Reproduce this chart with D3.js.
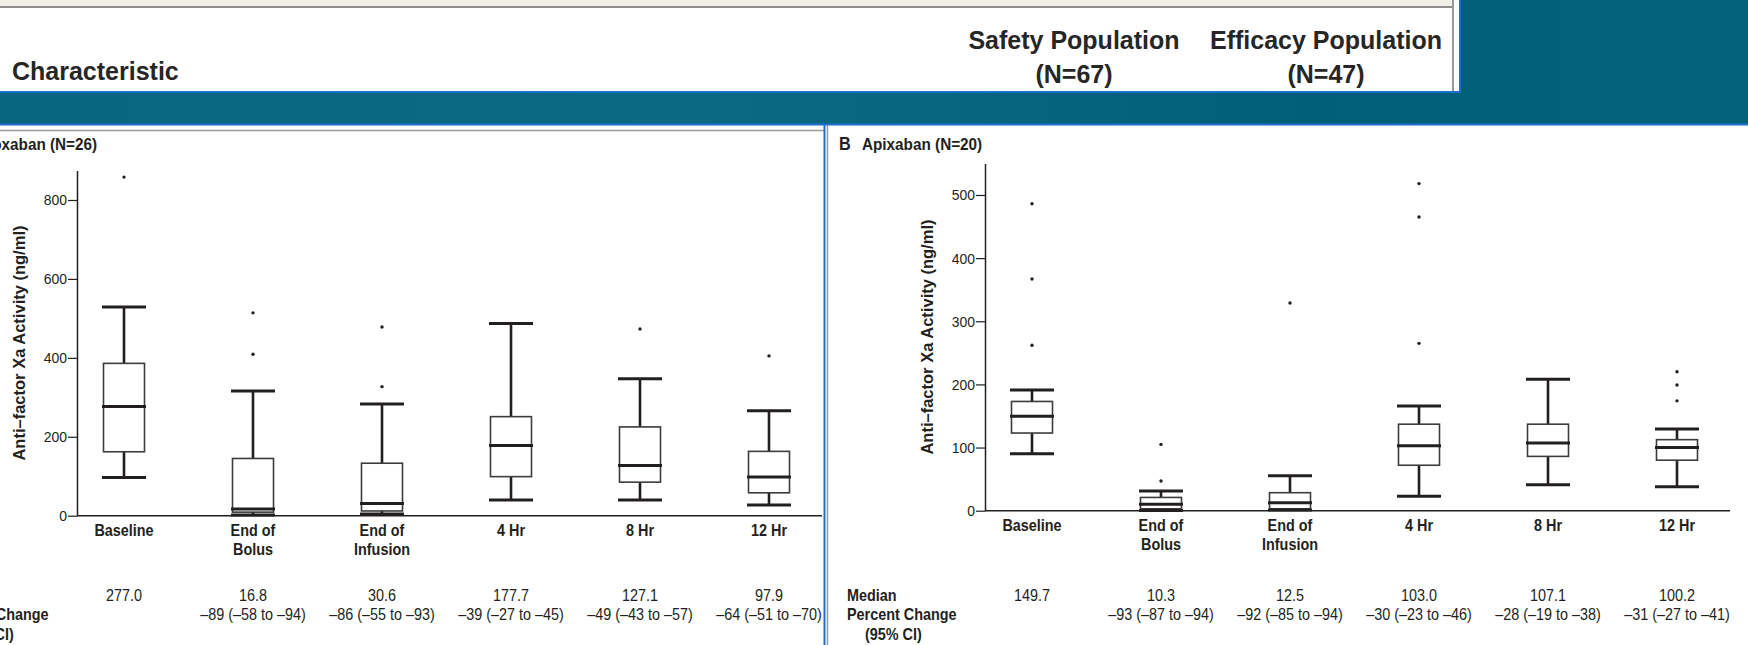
<!DOCTYPE html>
<html>
<head>
<meta charset="utf-8">
<script src="https://cdn.jsdelivr.net/npm/d3@7"></script>
<style>
body { margin: 0; background: #fff; overflow: hidden; }
text { font-family: "Liberation Sans", Arial, sans-serif; fill: #231f20; }
.hdr { font-weight: bold; font-size: 25px; fill: #262626; }
</style>
</head>
<body>
<div id="chart"></div>
<script>
var categories = ["Baseline", "End of|Bolus", "End of|Infusion", "4 Hr", "8 Hr", "12 Hr"];

// A: rivaroxaban (N=26)
var lowA  = [97, 2, 4, 40, 40, 27];
var q1A   = [162, 9, 12, 99, 85, 58];
var medA  = [277.0, 16.8, 30.6, 177.7, 127.1, 97.9];
var q3A   = [386, 145, 133, 251, 225, 163];
var highA = [529, 316, 283, 487, 347, 266];
var outA  = [[858], [514, 409], [478, 327], [], [473], [405]];
var changeA = ["", "–89 (–58 to –94)", "–86 (–55 to –93)", "–39 (–27 to –45)", "–49 (–43 to –57)", "–64 (–51 to –70)"];
var ticksA = [0, 200, 400, 600, 800];

// B: apixaban (N=20)
var lowB  = [90, 0.5, 1, 23, 41, 38];
var q1B   = [123, 3, 3, 72, 86, 80];
var medB  = [149.7, 10.3, 12.5, 103.0, 107.1, 100.2];
var q3B   = [173, 21, 28.5, 137, 137, 112.5];
var highB = [191, 31, 55.5, 166, 208, 129.5];
var outB  = [[486, 367, 262], [105, 47], [329], [518, 465, 265], [], [220, 199, 174]];
var changeB = ["", "–93 (–87 to –94)", "–92 (–85 to –94)", "–30 (–23 to –46)", "–28 (–19 to –38)", "–31 (–27 to –41)"];
var ticksB = [0, 100, 200, 300, 400, 500];

var width = 1748, height = 645;
var SX = 0.9;   // horizontal squeeze, the figure uses a condensed face

var svg = d3.select("#chart").append("svg")
	.attr("width", width)
	.attr("height", height);

function txt(parent, x, y, s, size, bold, anchor) {
	return parent.append("text")
		.attr("transform", "translate(" + x + "," + y + ") scale(" + SX + ",1)")
		.style("font-size", size + "px")
		.style("font-weight", bold ? "bold" : "normal")
		.style("text-anchor", anchor || "start")
		.text(s);
}

/****************************** header band ******************************/
var defs = svg.append("defs");
var grad = defs.append("linearGradient").attr("id", "teal");
grad.append("stop").attr("offset", "0%").attr("stop-color", "#0a6580");
grad.append("stop").attr("offset", "40%").attr("stop-color", "#0c6984");
grad.append("stop").attr("offset", "75%").attr("stop-color", "#035f79");
grad.append("stop").attr("offset", "100%").attr("stop-color", "#05627c");

svg.append("rect").attr("x", 0).attr("y", 0).attr("width", width).attr("height", 124)
	.style("fill", "url(#teal)");
svg.append("rect").attr("x", 0).attr("y", 0).attr("width", 1460).attr("height", 92)
	.style("fill", "#fff");
svg.append("rect").attr("x", 0).attr("y", 0).attr("width", 1453).attr("height", 6)
	.style("fill", "#f3efe9");
svg.append("line").attr("x1", 0).attr("x2", 1453).attr("y1", 7).attr("y2", 7)
	.style("stroke", "#8c8c8c").style("stroke-width", 2);
svg.append("line").attr("x1", 1453).attr("x2", 1453).attr("y1", 0).attr("y2", 92)
	.style("stroke", "#9a9a9a").style("stroke-width", 2);
svg.append("line").attr("x1", 1460).attr("x2", 1460).attr("y1", 0).attr("y2", 93)
	.style("stroke", "#1d6fcf").style("stroke-width", 2);
svg.append("line").attr("x1", 0).attr("x2", 1461).attr("y1", 92).attr("y2", 92)
	.style("stroke", "#1d6fcf").style("stroke-width", 2);
svg.append("line").attr("x1", 0).attr("x2", width).attr("y1", 124.5).attr("y2", 124.5)
	.style("stroke", "#1d6fcf").style("stroke-width", 2);

svg.append("text").attr("class", "hdr").attr("x", 12).attr("y", 80).text("Characteristic");
var hdrCols = [["Safety Population", "(N=67)", 1074], ["Efficacy Population", "(N=47)", 1326]];
hdrCols.forEach(function(c) {
	svg.append("text").attr("class", "hdr").attr("x", c[2]).attr("y", 49)
		.style("text-anchor", "middle").text(c[0]);
	svg.append("text").attr("class", "hdr").attr("x", c[2]).attr("y", 83)
		.style("text-anchor", "middle").text(c[1]);
});

// panel borders
svg.append("line").attr("x1", 0).attr("x2", 824).attr("y1", 130.5).attr("y2", 130.5)
	.style("stroke", "#9a9a9a").style("stroke-width", 1.5);
svg.append("line").attr("x1", 824.5).attr("x2", 824.5).attr("y1", 125).attr("y2", height)
	.style("stroke", "#1d6fcf").style("stroke-width", 2);
svg.append("line").attr("x1", 827.5).attr("x2", 827.5).attr("y1", 125).attr("y2", height)
	.style("stroke", "#9a9a9a").style("stroke-width", 1.5);

/****************************** box plot panel ******************************/
function panel(p) {
	var g = svg.append("g");
	var ox = p.ox;

	var y = d3.scaleLinear().domain([0, p.ymax]).range([p.y0, p.ytop]);
	var x = d3.scalePoint().domain(categories).range([ox + 47, ox + 692]);

	// title
	txt(g, ox - 146, 150, p.letter, 18, true);
	txt(g, ox - 123, 150, p.title, 17, true);

	// y axis
	var yAxis = g.append("g").attr("transform", "translate(" + ox + ",0)")
		.call(d3.axisLeft(y).tickValues(p.ticks).tickSize(9).tickSizeOuter(0).tickPadding(1));
	yAxis.select(".domain").style("stroke", "#231f20").style("stroke-width", 1.5);
	yAxis.selectAll(".tick line").style("stroke", "#231f20").style("stroke-width", 1.2);
	yAxis.selectAll(".tick text")
		.attr("x", -10 / SX)
		.attr("transform", "scale(" + SX + ",1)")
		.style("font-size", "15.5px").style("fill", "#231f20")
		.style("font-family", "'Liberation Sans', Arial, sans-serif");

	g.append("text")
		.attr("transform", "translate(" + (ox - 52) + "," + ((p.y0 + p.ytop) / 2) + ") rotate(-90)")
		.style("text-anchor", "middle").style("font-weight", "bold").style("font-size", "16.5px")
		.text("Anti–factor Xa Activity (ng/ml)");

	// x axis line
	g.append("line").attr("x1", ox).attr("x2", ox + 745).attr("y1", p.y0).attr("y2", p.y0)
		.style("stroke", "#231f20").style("stroke-width", 1.5);

	var rows = categories.map(function(c, i) {
		return { cat: c, low: p.low[i], q1: p.q1[i], med: p.med[i], q3: p.q3[i],
			high: p.high[i], out: p.out[i], change: p.change[i] };
	});

	var box = g.selectAll(".box").data(rows).enter().append("g")
		.attr("class", "box")
		.attr("transform", function(d) { return "translate(" + x(d.cat) + ",0)"; });

	var capW = 44, boxW = 41;

	box.append("line").attr("x1", 0).attr("x2", 0)
		.attr("y1", function(d) { return y(d.low); })
		.attr("y2", function(d) { return y(d.high); })
		.style("stroke", "#231f20").style("stroke-width", 2.6);
	box.append("rect")
		.attr("x", -boxW / 2).attr("width", boxW)
		.attr("y", function(d) { return y(d.q3); })
		.attr("height", function(d) { return y(d.q1) - y(d.q3); })
		.style("fill", "#fff").style("stroke", "#3c3c3c").style("stroke-width", 1.6);
	box.append("line").attr("x1", -capW / 2).attr("x2", capW / 2)
		.attr("y1", function(d) { return y(d.med); })
		.attr("y2", function(d) { return y(d.med); })
		.style("stroke", "#231f20").style("stroke-width", 3);
	["low", "high"].forEach(function(k) {
		box.append("line").attr("x1", -capW / 2).attr("x2", capW / 2)
			.attr("y1", function(d) { return y(d[k]); })
			.attr("y2", function(d) { return y(d[k]); })
			.style("stroke", "#231f20").style("stroke-width", 3);
	});
	box.selectAll(".out").data(function(d) { return d.out; }).enter().append("circle")
		.attr("class", "out").attr("cx", 0).attr("cy", function(v) { return y(v); })
		.attr("r", 1.7).style("fill", "#231f20");

	// category labels
	var lab = box.append("text")
		.attr("transform", "translate(0," + (p.y0 + 20) + ") scale(" + SX + ",1)")
		.style("text-anchor", "middle").style("font-weight", "bold").style("font-size", "16px");
	lab.selectAll("tspan").data(function(d) { return d.cat.split("|"); }).enter().append("tspan")
		.attr("x", 0).attr("dy", function(s, i) { return i ? 19 : 0; }).text(function(s) { return s; });

	// medians and percent change
	var fmt = d3.format(".1f");
	box.append("text")
		.attr("transform", "translate(0,601) scale(" + SX + ",1)")
		.style("text-anchor", "middle").style("font-size", "16px")
		.text(function(d) { return fmt(d.med); });
	box.append("text")
		.attr("transform", "translate(0,620) scale(" + SX + ",1)")
		.style("text-anchor", "middle").style("font-size", "16px")
		.text(function(d) { return d.change; });

	txt(g, ox - 138, 601, "Median", 16, true);
	txt(g, ox - 138, 620, "Percent Change", 16, true);
	txt(g, ox - 120, 640, "(95% CI)", 16, true);
}

panel({ ox: 77, y0: 515.7, ytop: 170.4, ymax: 875, ticks: ticksA, letter: "A", title: "Rivaroxaban (N=26)",
	low: lowA, q1: q1A, med: medA, q3: q3A, high: highA, out: outA, change: changeA });
panel({ ox: 985, y0: 510.7, ytop: 163.4, ymax: 550, ticks: ticksB, letter: "B", title: "Apixaban (N=20)",
	low: lowB, q1: q1B, med: medB, q3: q3B, high: highB, out: outB, change: changeB });
</script>
</body>
</html>
